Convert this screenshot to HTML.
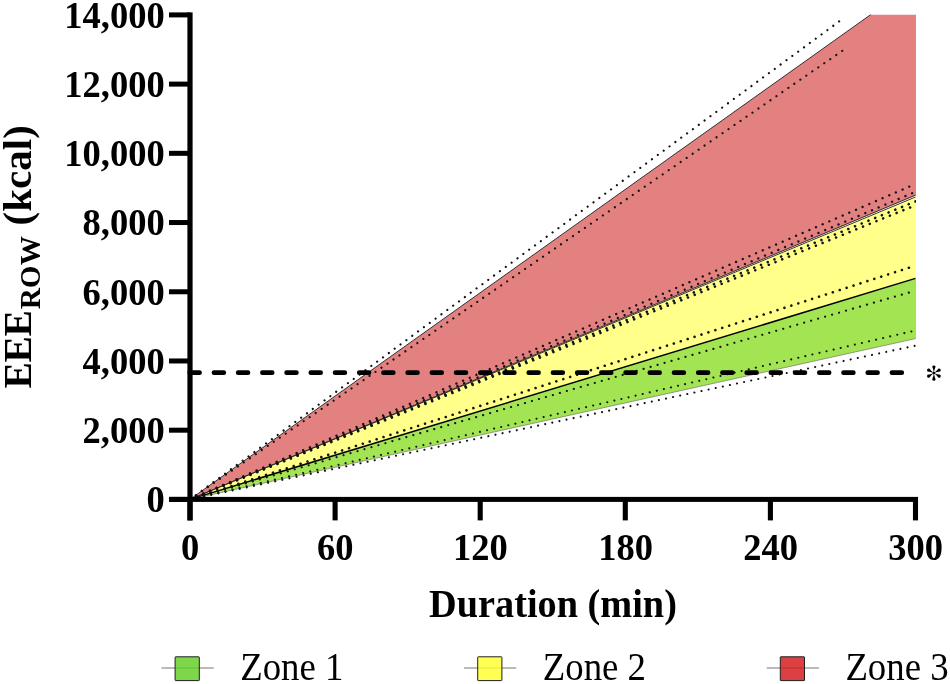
<!DOCTYPE html>
<html><head><meta charset="utf-8"><title>EEE ROW</title>
<style>
html,body{margin:0;padding:0;background:#fff;}
svg{display:block;will-change:transform;}
text{font-family:"Liberation Serif",serif;fill:#000;}
.tk{font-size:36.5px;font-weight:bold;}
.ti{font-size:38.3px;font-weight:bold;}
.yt{font-weight:bold;}
.lg{font-size:36.8px;}
.as{font-size:38px;}
</style></head><body>
<svg width="950" height="684" viewBox="0 0 950 684">
<defs><clipPath id="pc"><rect x="186" y="0" width="730" height="503"/></clipPath></defs>
<rect width="950" height="684" fill="#fff"/>
<polygon points="190.0,499.4 870.6,14.700000000000001 916.0,14.700000000000001 916.0,195.4" fill="#e38080"/>
<polygon points="190.0,499.4 916.0,196.7 916.0,278.4" fill="#ffff8a"/>
<polygon points="190.0,499.4 916.0,278.4 916.0,338.6" fill="#a3e453"/>
<path d="M190.0,499.4 L870.6,14.700000000000001" stroke="#333" stroke-width="1" fill="none"/>
<path d="M190.0,499.4 L915.5,195.1" stroke="#2a2a2a" stroke-width="0.9" fill="none"/>
<path d="M190.0,499.4 L915.5,197.0" stroke="#222" stroke-width="0.9" fill="none"/>
<path d="M190.0,499.4 L915.5,278.4" stroke="#000" stroke-width="1.5" fill="none"/>
<path d="M190.0,499.4 L915.5,338.6" stroke="#777" stroke-width="0.7" fill="none"/>
<path clip-path="url(#pc)" d="M190.0,499.4 L842.95,18.6" stroke="#111" stroke-width="2.2" stroke-linecap="round" stroke-dasharray="0.01 7.2520" fill="none"/>
<path clip-path="url(#pc)" d="M190.0,499.4 L842.95,50.35" stroke="#111" stroke-width="2.2" stroke-linecap="round" stroke-dasharray="0.01 7.2520" fill="none"/>
<path clip-path="url(#pc)" d="M190.0,499.4 L915.5,183.9" stroke="#111" stroke-width="2.4" stroke-linecap="round" stroke-dasharray="0.01 7.2520" fill="none"/>
<path clip-path="url(#pc)" d="M190.0,499.4 L915.5,191.8" stroke="#111" stroke-width="2.4" stroke-linecap="round" stroke-dasharray="0.01 7.2520" fill="none"/>
<path clip-path="url(#pc)" d="M190.0,499.4 L915.5,201.4" stroke="#111" stroke-width="2.6" stroke-linecap="round" stroke-dasharray="0.01 7.2520" fill="none"/>
<path clip-path="url(#pc)" d="M190.0,499.4 L915.5,205.3" stroke="#111" stroke-width="2.6" stroke-linecap="round" stroke-dasharray="0.01 7.2520" fill="none"/>
<path clip-path="url(#pc)" d="M190.0,499.4 L915.5,265.6" stroke="#111" stroke-width="2.6" stroke-linecap="round" stroke-dasharray="0.01 7.2520" fill="none"/>
<path clip-path="url(#pc)" d="M190.0,499.4 L915.5,290.7" stroke="#111" stroke-width="2.2" stroke-linecap="round" stroke-dasharray="0.01 7.2520" fill="none"/>
<path clip-path="url(#pc)" d="M190.0,499.4 L915.5,330.5" stroke="#111" stroke-width="2.1" stroke-linecap="round" stroke-dasharray="0.01 7.2520" fill="none"/>
<path clip-path="url(#pc)" d="M190.0,499.4 L915.5,345.7" stroke="#111" stroke-width="2.1" stroke-linecap="round" stroke-dasharray="0.01 7.2520" fill="none"/>
<path d="M189.8,372.7 L915.5,372.7" stroke="#000" stroke-width="4.8" stroke-linecap="round" stroke-dasharray="9.714 14.5" fill="none"/>
<rect x="187.4" y="12.4" width="5.2" height="508" fill="#000"/>
<rect x="169" y="496.9" width="749" height="5" fill="#000"/>
<rect x="169" y="496.90" width="21" height="5" fill="#000"/>
<rect x="169" y="427.69" width="21" height="5" fill="#000"/>
<rect x="169" y="358.47" width="21" height="5" fill="#000"/>
<rect x="169" y="289.26" width="21" height="5" fill="#000"/>
<rect x="169" y="220.04" width="21" height="5" fill="#000"/>
<rect x="169" y="150.83" width="21" height="5" fill="#000"/>
<rect x="169" y="81.61" width="21" height="5" fill="#000"/>
<rect x="169" y="12.40" width="21" height="5" fill="#000"/>
<rect x="187.45" y="497" width="5.1" height="23.4" fill="#000"/>
<rect x="332.55" y="497" width="5.1" height="23.4" fill="#000"/>
<rect x="477.65" y="497" width="5.1" height="23.4" fill="#000"/>
<rect x="622.75" y="497" width="5.1" height="23.4" fill="#000"/>
<rect x="767.85" y="497" width="5.1" height="23.4" fill="#000"/>
<rect x="912.95" y="497" width="5.1" height="23.4" fill="#000"/>
<text transform="translate(164.7,512.30) scale(1,1.05)" text-anchor="end" class="tk">0</text>
<text transform="translate(164.7,443.09) scale(1,1.05)" text-anchor="end" class="tk">2,000</text>
<text transform="translate(164.7,373.87) scale(1,1.05)" text-anchor="end" class="tk">4,000</text>
<text transform="translate(164.7,304.66) scale(1,1.05)" text-anchor="end" class="tk">6,000</text>
<text transform="translate(164.7,235.44) scale(1,1.05)" text-anchor="end" class="tk">8,000</text>
<text transform="translate(164.7,166.23) scale(1,1.05)" text-anchor="end" class="tk">10,000</text>
<text transform="translate(164.7,97.01) scale(1,1.05)" text-anchor="end" class="tk">12,000</text>
<text transform="translate(164.7,27.80) scale(1,1.05)" text-anchor="end" class="tk">14,000</text>
<text transform="translate(190.20,559.8) scale(1,1.05)" text-anchor="middle" class="tk">0</text>
<text transform="translate(335.30,559.8) scale(1,1.05)" text-anchor="middle" class="tk">60</text>
<text transform="translate(480.40,559.8) scale(1,1.05)" text-anchor="middle" class="tk">120</text>
<text transform="translate(625.50,559.8) scale(1,1.05)" text-anchor="middle" class="tk">180</text>
<text transform="translate(770.60,559.8) scale(1,1.05)" text-anchor="middle" class="tk">240</text>
<text transform="translate(915.70,559.8) scale(1,1.05)" text-anchor="middle" class="tk">300</text>
<text transform="translate(553,617.4) scale(1,1.065)" text-anchor="middle" class="ti">Duration (min)</text>
<text transform="translate(31.3,388.5) rotate(-90)" font-size="39.4" letter-spacing="-0.3" class="yt">EEE</text>
<text transform="translate(39.9,309.3) rotate(-90)" font-size="29.3" class="yt">ROW</text>
<text transform="translate(31.3,125.2) rotate(-90)" font-size="41" text-anchor="end" class="yt">(kcal)</text>
<g transform="translate(933.9,373.1)" fill="#000"><path transform="rotate(0)" d="M0,0 Q-0.45,-3.6 -1.68,-6.3 A1.72,1.72 0 0 1 1.68,-6.3 Q0.45,-3.6 0,0 Z"/><path transform="rotate(60)" d="M0,0 Q-0.45,-3.6 -1.68,-6.3 A1.72,1.72 0 0 1 1.68,-6.3 Q0.45,-3.6 0,0 Z"/><path transform="rotate(120)" d="M0,0 Q-0.45,-3.6 -1.68,-6.3 A1.72,1.72 0 0 1 1.68,-6.3 Q0.45,-3.6 0,0 Z"/><path transform="rotate(180)" d="M0,0 Q-0.45,-3.6 -1.68,-6.3 A1.72,1.72 0 0 1 1.68,-6.3 Q0.45,-3.6 0,0 Z"/><path transform="rotate(240)" d="M0,0 Q-0.45,-3.6 -1.68,-6.3 A1.72,1.72 0 0 1 1.68,-6.3 Q0.45,-3.6 0,0 Z"/><path transform="rotate(300)" d="M0,0 Q-0.45,-3.6 -1.68,-6.3 A1.72,1.72 0 0 1 1.68,-6.3 Q0.45,-3.6 0,0 Z"/><circle r="1.25"/></g>
<path d="M161.5,668 L213.7,668" stroke="#777" stroke-width="1.2"/><rect x="175.1" y="656.8" width="24.2" height="23.8" rx="0.5" fill="#61cd22" fill-opacity="0.82" stroke="#1f1f1f" stroke-width="1"/><text transform="translate(240.2,679.6) scale(1,1.06)" class="lg">Zone 1</text>
<path d="M464.1,668 L516.3,668" stroke="#777" stroke-width="1.2"/><rect x="477.7" y="656.8" width="24.2" height="23.8" rx="0.5" fill="#ffff2e" fill-opacity="0.82" stroke="#1f1f1f" stroke-width="1"/><text transform="translate(542.8,679.6) scale(1,1.06)" class="lg">Zone 2</text>
<path d="M766.7,668 L818.9,668" stroke="#777" stroke-width="1.2"/><rect x="780.3" y="656.8" width="24.2" height="23.8" rx="0.5" fill="#d41618" fill-opacity="0.82" stroke="#1f1f1f" stroke-width="1"/><text transform="translate(845.4,679.6) scale(1,1.06)" class="lg">Zone 3</text>
</svg>
</body></html>
